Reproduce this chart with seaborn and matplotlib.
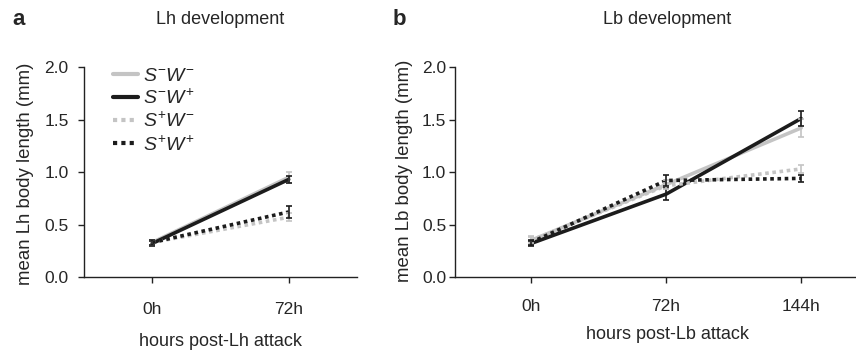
import matplotlib
matplotlib.use('Agg')

import matplotlib.pyplot as plt
import seaborn as sns
import pandas as pd

# data
groups = ["S-W-", "S-W+", "S+W-", "S+W+"]
group_labels = [r"$S^{-}W^{-}$", r"$S^{-}W^{+}$", r"$S^{+}W^{-}$", r"$S^{+}W^{+}$"]

lh_times = ["0h", "72h"]
lh_means = {
    "S-W-": [0.33, 0.95],
    "S-W+": [0.32, 0.93],
    "S+W-": [0.33, 0.57],
    "S+W+": [0.33, 0.62],
}
lh_errs = {
    "S-W-": [0.02, 0.05],
    "S-W+": [0.02, 0.03],
    "S+W-": [0.02, 0.04],
    "S+W+": [0.02, 0.06],
}

lb_times = ["0h", "72h", "144h"]
lb_means = {
    "S-W-": [0.35, 0.88, 1.42],
    "S-W+": [0.32, 0.79, 1.51],
    "S+W-": [0.35, 0.87, 1.03],
    "S+W+": [0.33, 0.92, 0.94],
}
lb_errs = {
    "S-W-": [0.04, 0.04, 0.09],
    "S-W+": [0.02, 0.06, 0.07],
    "S+W-": [0.03, 0.03, 0.04],
    "S+W+": [0.02, 0.05, 0.03],
}

colors = {"S-W-": "#c4c4c4", "S-W+": "#1c1c1c", "S+W-": "#c4c4c4", "S+W+": "#1c1c1c"}
dashes = {"S-W-": "", "S-W+": "", "S+W-": (1, 1), "S+W+": (1, 1)}


def to_frame(times, means, errs):
    rows = []
    for g in groups:
        for i, t in enumerate(times):
            rows.append({"group": g, "pos": i, "time": t,
                         "mean": means[g][i], "err": errs[g][i]})
    return pd.DataFrame(rows)


def draw_panel(ax, times, means, errs, organism, legend, ypad, xpad):
    df = to_frame(times, means, errs)
    sns.lineplot(data=df, x="pos", y="mean", hue="group", style="group",
                 hue_order=groups, style_order=groups, palette=colors,
                 dashes=dashes, linewidth=2.6, legend=legend, ax=ax,
                 errorbar=None)
    for line in ax.get_lines():
        line.set_dash_capstyle("butt")
    for g in groups:
        sub = df[df.group == g]
        ax.errorbar(sub["pos"], sub["mean"], yerr=sub["err"], fmt="none",
                    ecolor=colors[g], elinewidth=1.2, capsize=2.3, capthick=1.2)

    ax.set_xticks(range(len(times)))
    ax.set_xticklabels(times)
    ax.set_ylim(0, 2.0)
    ax.set_yticks([0.0, 0.5, 1.0, 1.5, 2.0])
    ax.set_yticklabels(["0.0", "0.5", "1.0", "1.5", "2.0"])
    ax.set_xlabel(f"hours post-{organism} attack", fontsize=13)
    ax.set_ylabel(f"mean {organism} body length (mm)", fontsize=13.4)
    ax.tick_params(axis="both", labelsize=12.5, length=4, width=1, color="#222222")
    ax.tick_params(axis="y", pad=ypad)
    ax.tick_params(axis="x", pad=xpad)
    sns.despine(ax=ax)
    for s in ["left", "bottom"]:
        ax.spines[s].set_linewidth(1.0)
        ax.spines[s].set_color("#222222")


sns.set_style("ticks")
plt.rcParams["font.family"] = ["Liberation Sans", "DejaVu Sans"]
plt.rcParams["mathtext.fontset"] = "custom"
plt.rcParams["mathtext.it"] = "Liberation Sans:italic"
plt.rcParams["mathtext.rm"] = "Liberation Sans"

fig = plt.figure(figsize=(8.56, 3.53), dpi=100)
ax_a = fig.add_axes([0.098, 0.215, 0.319, 0.595])
ax_b = fig.add_axes([0.532, 0.215, 0.467, 0.595])

draw_panel(ax_a, lh_times, lh_means, lh_errs, "Lh", legend=True, ypad=7, xpad=14)
ax_a.set_xlim(-0.5, 1.5)
ax_a.set_title("Lh development", fontsize=13, pad=31)
ax_a.yaxis.set_label_coords(-0.183, 0.49)
ax_a.xaxis.set_label_coords(0.5, -0.265)

draw_panel(ax_b, lb_times, lb_means, lb_errs, "Lb", legend=False, ypad=2.5, xpad=12)
ax_b.set_xlim(-0.56, 2.4)
ax_b.set_title("Lb development", fontsize=13, pad=31, x=0.53)
ax_b.yaxis.set_label_coords(-0.105, 0.505)
ax_b.xaxis.set_label_coords(0.53, -0.233)

handles, _ = ax_a.get_legend_handles_labels()
for h in handles:
    h.set_linewidth(3.0)
ax_a.legend(handles, group_labels, loc="upper left", bbox_to_anchor=(0.106, 1.0),
            frameon=False, fontsize=14, handlelength=1.3, handletextpad=0.25,
            labelspacing=0.2, borderpad=0, borderaxespad=0)

fig.text(0.014, 0.929, "a", fontsize=16, fontweight="bold", va="baseline")
fig.text(0.459, 0.929, "b", fontsize=16, fontweight="bold", va="baseline")

fig.savefig("out.png", dpi=100)
plt.close(fig)
